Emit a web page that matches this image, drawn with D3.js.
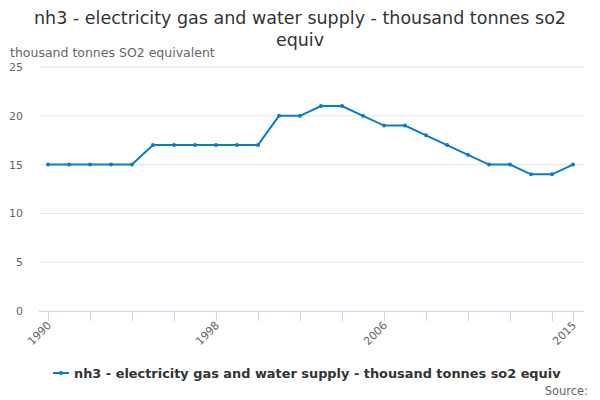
<!DOCTYPE html>
<html>
<head>
<meta charset="utf-8">
<script src="https://cdn.jsdelivr.net/npm/d3@7"></script>
<style>
  body { margin: 0; background: #fff; }
  svg { font-family: "DejaVu Sans", sans-serif; display: block; }
</style>
</head>
<body>
<svg id="chart" width="600" height="400"></svg>
<script>
const years = d3.range(1990, 2016);
const values = [15, 15, 15, 15, 15, 17, 17, 17, 17, 17, 17, 20, 20, 21, 21, 20, 19, 19, 18, 17, 16, 15, 15, 14, 14, 15];
const yTicks = [0, 5, 10, 15, 20, 25];
const xTicks = [1990, 1992, 1994, 1996, 1998, 2000, 2002, 2004, 2006, 2008, 2010, 2012, 2014, 2015];
const xLabels = [1990, 1998, 2006, 2015];
const seriesName = "nh3 - electricity gas and water supply - thousand tonnes so2 equiv";

const svg = d3.select("#chart");
const color = "#0b7dc5";

const x = d3.scaleLinear().domain([1990, 2015]).range([48, 573]);
const y = d3.scaleLinear().domain([0, 25]).range([311, 67]);

// title
const title = svg.append("text")
  .attr("text-anchor", "middle")
  .attr("fill", "#333")
  .style("font-size", "17.5px");
title.append("tspan").attr("x", 300).attr("y", 24).text("nh3 - electricity gas and water supply - thousand tonnes so2");
title.append("tspan").attr("x", 300).attr("y", 46).text("equiv");

svg.append("text")
  .attr("x", 10).attr("y", 57)
  .attr("fill", "#666")
  .style("font-size", "12.5px")
  .text("thousand tonnes SO2 equivalent");

// gridlines
svg.append("g").selectAll("line")
  .data(yTicks.filter(d => d > 0))
  .join("line")
  .attr("x1", 39).attr("x2", 584)
  .attr("y1", d => y(d)).attr("y2", d => y(d))
  .attr("stroke", "#e6e6e6");

svg.append("g").selectAll("text")
  .data(yTicks)
  .join("text")
  .attr("x", 23).attr("y", d => y(d) + 4)
  .attr("text-anchor", "end")
  .attr("fill", "#666")
  .style("font-size", "11px")
  .text(d => d);

// x axis
const xAxis = svg.append("g");
xAxis.append("line")
  .attr("x1", 39).attr("x2", 584)
  .attr("y1", 311.5).attr("y2", 311.5)
  .attr("stroke", "#ccd6eb");
xAxis.selectAll("line.tick")
  .data(xTicks)
  .join("line")
  .attr("class", "tick")
  .attr("x1", d => Math.round(x(d)) + 0.5).attr("x2", d => Math.round(x(d)) + 0.5)
  .attr("y1", 311).attr("y2", 321)
  .attr("stroke", "#ccd6eb");
xAxis.selectAll("text")
  .data(xLabels)
  .join("text")
  .attr("transform", d => `translate(${x(d) + 4},${326}) rotate(-45)`)
  .attr("text-anchor", "end")
  .attr("fill", "#666")
  .style("font-size", "11px")
  .text(d => d);

// series
const line = d3.line().x((d, i) => x(years[i])).y(d => y(d));
svg.append("path")
  .datum(values)
  .attr("d", line)
  .attr("fill", "none")
  .attr("stroke", color)
  .attr("stroke-width", 2);
svg.append("g").selectAll("circle")
  .data(values)
  .join("circle")
  .attr("cx", (d, i) => x(years[i]))
  .attr("cy", d => y(d))
  .attr("r", 2)
  .attr("fill", color);

// legend
const legend = svg.append("g");
legend.append("line")
  .attr("x1", 53).attr("x2", 69)
  .attr("y1", 373).attr("y2", 373)
  .attr("stroke", color).attr("stroke-width", 2);
legend.append("circle").attr("cx", 61).attr("cy", 373).attr("r", 2).attr("fill", color);
legend.append("text")
  .attr("x", 74).attr("y", 377.5)
  .attr("fill", "#333")
  .style("font-size", "12.9px")
  .style("font-weight", "bold")
  .text(seriesName);

svg.append("text")
  .attr("x", 588).attr("y", 395)
  .attr("text-anchor", "end")
  .attr("fill", "#666")
  .style("font-size", "11.5px")
  .text("Source:");
</script>
</body>
</html>
